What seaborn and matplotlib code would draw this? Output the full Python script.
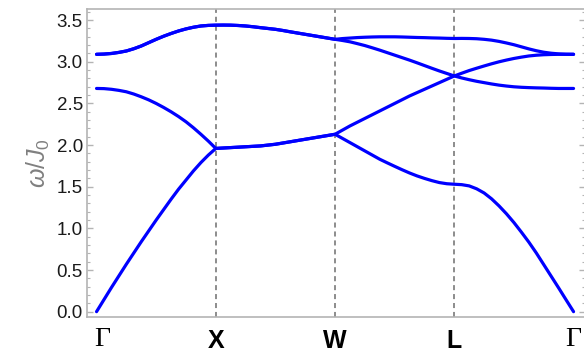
import numpy as np
import pandas as pd
import matplotlib
matplotlib.use("Agg")
import matplotlib.pyplot as plt
from matplotlib.ticker import MultipleLocator
from matplotlib.transforms import ScaledTranslation
import seaborn as sns

# High-symmetry path labels
path_labels = ["Γ", "X", "W", "L", "Γ"]

# Magnon energies ω/J0, 17 samples per path segment (Γ-X | X-W | W-L | L-Γ),
# shared end points listed once
band_1 = [0.00, 0.145, 0.29, 0.43, 0.57, 0.705, 0.84, 0.97, 1.10, 1.225, 1.35, 1.47, 1.58, 1.69, 1.79, 1.88, 1.96,
          1.965, 1.97, 1.975, 1.98, 1.985, 1.99, 2.00, 2.01, 2.025, 2.04, 2.055, 2.07, 2.085, 2.10, 2.115, 2.13,
          2.08, 2.03, 1.98, 1.93, 1.88, 1.83, 1.787, 1.745, 1.704, 1.665, 1.63, 1.60, 1.573, 1.55, 1.536, 1.53,
          1.525, 1.51, 1.475, 1.425, 1.355, 1.27, 1.175, 1.07, 0.955, 0.835, 0.705, 0.565, 0.425, 0.285, 0.142, 0.00]
band_2 = [2.68, 2.678, 2.67, 2.657, 2.64, 2.613, 2.58, 2.543, 2.50, 2.452, 2.40, 2.343, 2.28, 2.208, 2.13, 2.048, 1.96,
          1.965, 1.97, 1.975, 1.98, 1.985, 1.99, 2.00, 2.01, 2.025, 2.04, 2.055, 2.07, 2.085, 2.10, 2.115, 2.13,
          2.18, 2.23, 2.275, 2.32, 2.365, 2.41, 2.455, 2.50, 2.545, 2.59, 2.63, 2.67, 2.71, 2.75, 2.79, 2.83,
          2.806, 2.785, 2.766, 2.75, 2.734, 2.72, 2.709, 2.70, 2.694, 2.69, 2.687, 2.685, 2.682, 2.68, 2.68, 2.68]
band_3 = [3.09, 3.093, 3.10, 3.113, 3.13, 3.157, 3.19, 3.23, 3.27, 3.307, 3.34, 3.37, 3.395, 3.415, 3.43, 3.437, 3.44,
          3.441, 3.44, 3.436, 3.43, 3.421, 3.41, 3.40, 3.39, 3.376, 3.36, 3.345, 3.33, 3.315, 3.30, 3.285, 3.27,
          3.256, 3.24, 3.218, 3.195, 3.168, 3.14, 3.11, 3.08, 3.05, 3.02, 2.988, 2.955, 2.922, 2.89, 2.86, 2.83,
          2.863, 2.895, 2.923, 2.95, 2.976, 3.00, 3.021, 3.04, 3.056, 3.07, 3.079, 3.085, 3.088, 3.09, 3.09, 3.09]
band_4 = [3.09, 3.093, 3.10, 3.113, 3.13, 3.157, 3.19, 3.23, 3.27, 3.307, 3.34, 3.37, 3.395, 3.415, 3.43, 3.437, 3.44,
          3.441, 3.44, 3.436, 3.43, 3.421, 3.41, 3.40, 3.39, 3.376, 3.36, 3.345, 3.33, 3.315, 3.30, 3.285, 3.27,
          3.279, 3.285, 3.291, 3.295, 3.298, 3.30, 3.30, 3.30, 3.298, 3.295, 3.292, 3.29, 3.287, 3.285, 3.282, 3.28,
          3.281, 3.28, 3.277, 3.27, 3.26, 3.245, 3.226, 3.205, 3.18, 3.155, 3.133, 3.115, 3.103, 3.095, 3.091, 3.09]

bands = [band_1, band_2, band_3, band_4]
k = np.linspace(0, len(path_labels) - 1, len(band_1))

df = pd.concat(
    [pd.DataFrame({"k": k, "omega": b, "band": i}) for i, b in enumerate(bands)],
    ignore_index=True,
)

sns.set_theme(style="white")
plt.rcParams["font.family"] = ["Liberation Sans", "DejaVu Sans"]
plt.rcParams["mathtext.fontset"] = "custom"
plt.rcParams["mathtext.it"] = "Liberation Sans:italic"
plt.rcParams["mathtext.rm"] = "Liberation Sans"

fig = plt.figure(figsize=(5.84, 3.52), dpi=100)
ax = fig.add_axes([87 / 584, 1 - 317 / 352, 498 / 584, 308 / 352])

frame_gray = "#b4b4b4"

# symmetry-point guides
for xv in range(1, len(path_labels) - 1):
    ax.axvline(xv, color="#8c8c8c", lw=1.4, ls=(0, (2.6, 2.0)), zorder=1)

sns.lineplot(data=df, x="k", y="omega", units="band", estimator=None,
             sort=False, color="#0000ff", lw=2.3, ax=ax, zorder=3,
             legend=False)
for ln in ax.lines:
    ln.set_solid_joinstyle("round")
    ln.set_solid_capstyle("round")

ax.set_xlim(-0.08, 4.096)
ax.set_ylim(-0.064, 3.634)

ax.yaxis.set_major_locator(MultipleLocator(0.5))
ax.yaxis.set_minor_locator(MultipleLocator(0.1))
ax.yaxis.set_major_formatter(plt.FormatStrFormatter("%.1f"))
ax.tick_params(axis="y", which="both", direction="in", left=True, right=True,
               color=frame_gray, labelcolor="#1a1a1a", labelsize=13.5, pad=3)
ax.tick_params(axis="y", which="major", length=4.5, width=1.0)
ax.tick_params(axis="y", which="minor", length=2.5, width=0.8)

# path labels below the frame
ax.set_xticks([])
xtrans = ax.get_xaxis_transform()
for i, lab in enumerate(path_labels):
    if lab == "Γ":
        dx = 6 if i == 0 else 0
        ax.text(i, 0, lab,
                transform=xtrans + ScaledTranslation(dx / 100, -29 / 100, fig.dpi_scale_trans),
                ha="center", va="baseline", fontsize=20, color="black",
                family=["Liberation Serif", "DejaVu Serif"], clip_on=False)
    else:
        ax.text(i, 0, lab,
                transform=xtrans + ScaledTranslation(0, -12 / 100, fig.dpi_scale_trans),
                ha="center", va="top", fontsize=18, fontweight="bold",
                color="black", clip_on=False)

ax.set_xlabel("")
ax.set_ylabel(r"$\omega/J_0$", color="#808080", fontsize=18, labelpad=3)

for sp in ax.spines.values():
    sp.set_visible(True)
    sp.set_color(frame_gray)
    sp.set_linewidth(1.2)

fig.savefig("out.png", dpi=100)
